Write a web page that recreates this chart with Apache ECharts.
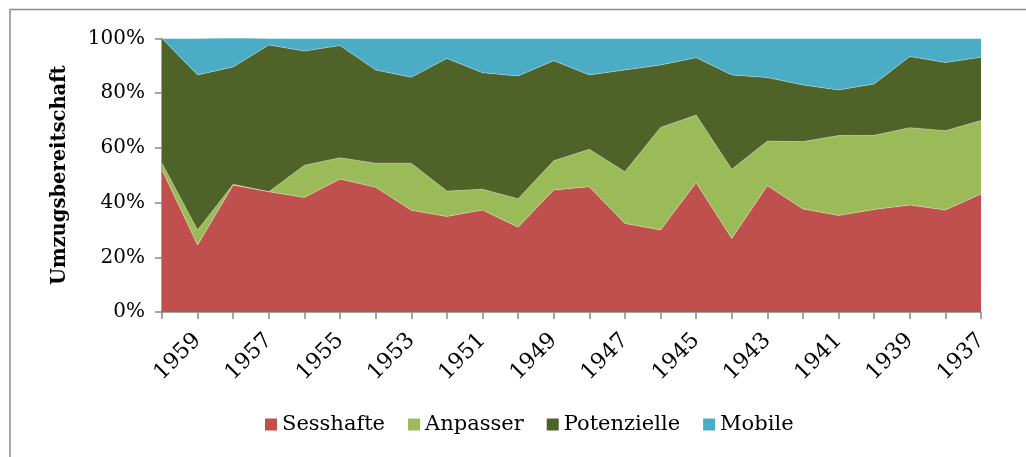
<!DOCTYPE html>
<html>
<head>
<meta charset="utf-8">
<script src="https://cdn.jsdelivr.net/npm/echarts@6/dist/echarts.min.js"></script>
<style>
html,body{margin:0;padding:0;background:#fff;}
#chart{width:1026px;height:457px;}
</style>
</head>
<body>
<div id="chart"></div>
<script>
const years = ['1960','1959','1958','1957','1956','1955','1954','1953','1952','1951','1950','1949','1948','1947','1946','1945','1944','1943','1942','1941','1940','1939','1938','1937'];
const sesshafte   = [51.9, 24.5, 46.4, 44.0, 41.9, 48.6, 45.6, 37.2, 34.9, 37.3, 31.0, 44.6, 45.8, 32.4, 30.0, 47.3, 26.9, 46.2, 37.7, 35.3, 37.5, 39.1, 37.3, 43.1];
const anpasser    = [2.5, 5.5, 0.3, 0.0, 11.8, 7.8, 8.8, 17.2, 9.3, 7.6, 10.4, 10.7, 13.7, 18.9, 37.5, 24.7, 25.3, 16.3, 24.6, 29.2, 27.1, 28.3, 29.0, 26.9];
const potenzielle = [45.6, 56.7, 42.9, 53.6, 41.7, 41.0, 34.1, 31.4, 48.5, 42.6, 44.9, 36.6, 27.2, 37.2, 22.8, 21.0, 34.5, 23.2, 20.7, 16.7, 18.8, 26.0, 24.9, 23.1];
const mobile      = [0.0, 13.3, 10.7, 2.4, 4.6, 2.6, 11.5, 14.2, 7.3, 12.5, 13.7, 8.1, 13.3, 11.5, 9.7, 7.0, 13.3, 14.3, 17.0, 18.8, 16.6, 6.6, 8.8, 6.9];
const yTicks = [0, 20, 40, 60, 80, 100];
const seriesNames = ['Sesshafte', 'Anpasser', 'Potenzielle', 'Mobile'];
const seriesData = [sesshafte, anpasser, potenzielle, mobile];
const colors = ['#C0504D', '#9BBB59', '#4F6228', '#4BACC6'];

const font = '"DejaVu Serif", "Liberation Serif", serif';
const chart = echarts.init(document.getElementById('chart'), null, {renderer: 'canvas'});
chart.setOption({
  animation: false,
  color: colors,
  graphic: [{
    type: 'rect', silent: true, z: -1,
    shape: {x: 10, y: 9.5, width: 1040, height: 470},
    style: {fill: 'none', stroke: '#8c8c8c', lineWidth: 1.5}
  }],
  grid: {left: 162, right: 45, top: 38.5, bottom: 145, containLabel: false},
  legend: {
    bottom: 17, left: 260,
    itemWidth: 12, itemHeight: 12, itemGap: 23,
    icon: 'rect',
    textStyle: {fontFamily: font, fontSize: 21, color: '#000', padding: [0, 0, 0, 0]},
    data: seriesNames
  },
  xAxis: {
    type: 'category', boundaryGap: false, data: years,
    axisLine: {lineStyle: {color: '#868686', width: 1.5}},
    axisTick: {show: true, interval: 0, length: 7, lineStyle: {color: '#868686', width: 1.5}},
    axisLabel: {
      interval: function (idx) { return idx % 2 === 1; },
      rotate: 45, fontFamily: font, fontSize: 22, color: '#000', margin: 25
    },
    splitLine: {show: false}
  },
  yAxis: {
    type: 'value', min: yTicks[0], max: yTicks[yTicks.length - 1], interval: 20,
    name: 'Umzugsbereitschaft', nameLocation: 'middle', nameGap: 92, nameRotate: 90,
    nameTextStyle: {fontFamily: font, fontSize: 19.5, fontWeight: 'bold', color: '#000'},
    axisLine: {show: true, lineStyle: {color: '#868686', width: 1.5}},
    axisTick: {show: true, length: 7, lineStyle: {color: '#868686', width: 1.5}},
    axisLabel: {formatter: '{value}%', fontFamily: font, fontSize: 20, color: '#000', margin: 17},
    splitLine: {show: false}
  },
  series: seriesNames.map((n, i) => ({
    name: n, type: 'line', stack: 'total', data: seriesData[i],
    symbol: 'none', lineStyle: {width: 0.6, color: 'rgba(255,255,255,0.5)'},
    areaStyle: {color: colors[i], opacity: 1},
    itemStyle: {color: colors[i]},
    z: 2
  }))
});
</script>
</body>
</html>
